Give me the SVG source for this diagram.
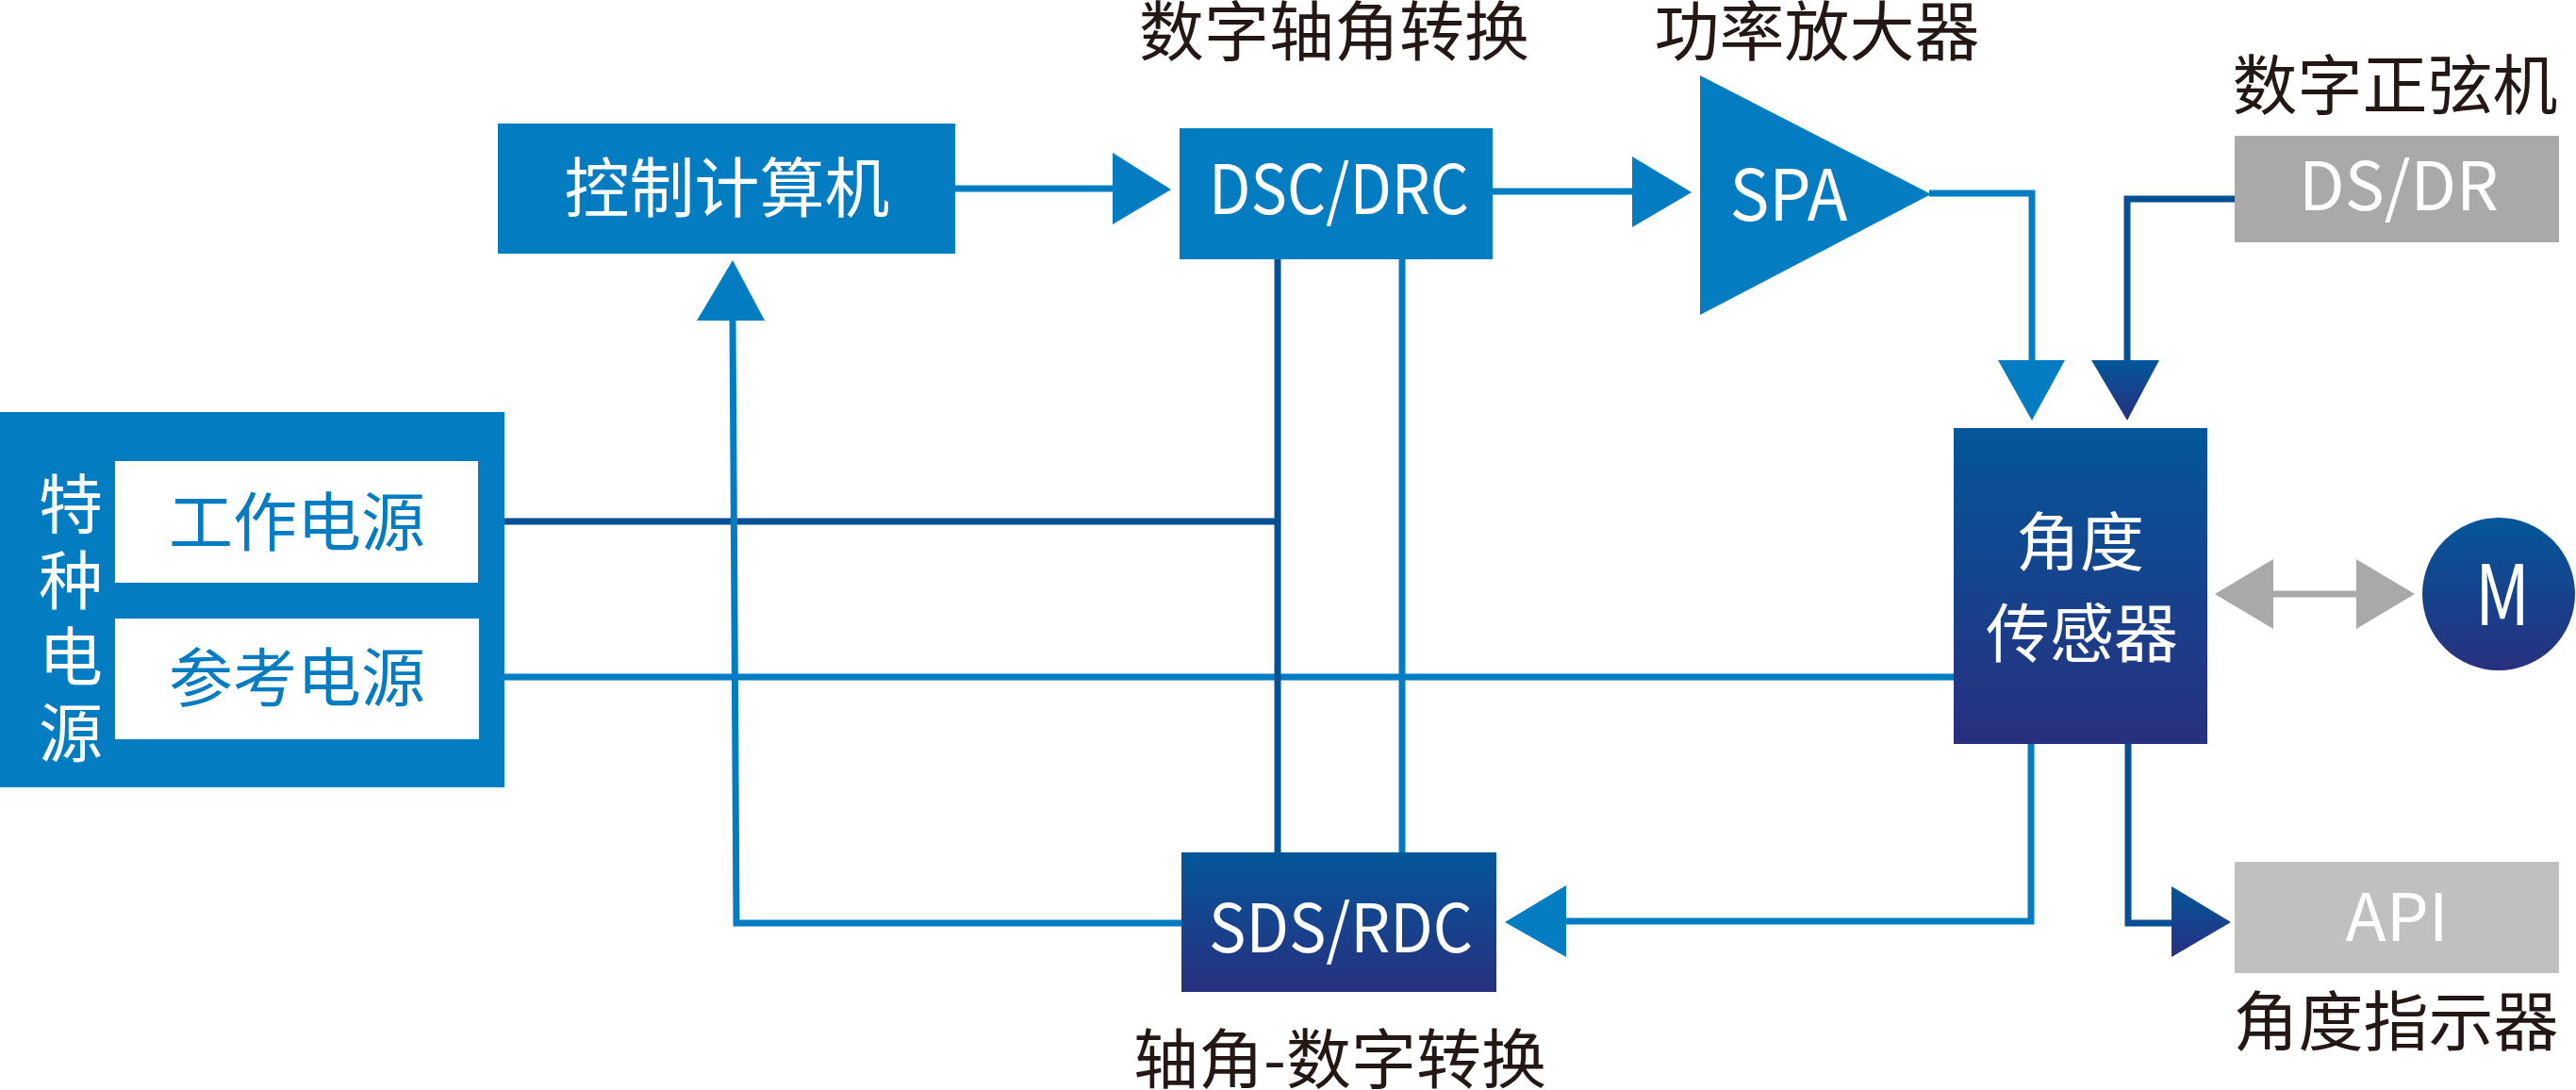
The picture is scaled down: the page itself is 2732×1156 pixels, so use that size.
<svg xmlns="http://www.w3.org/2000/svg" width="2732" height="1156" viewBox="0 0 2732 1156">
<defs>
<linearGradient id="gv" x1="0" y1="0" x2="0" y2="1">
<stop offset="0" stop-color="#04569a"/>
<stop offset="1" stop-color="#28307f"/>
</linearGradient>
<style>
.lab{font-family:"Noto Sans CJK SC","Noto Sans",sans-serif;font-size:69px;fill:#231815;text-anchor:middle}
.wt{font-family:"Noto Sans CJK SC","Noto Sans",sans-serif;fill:#ffffff;text-anchor:middle}
.bt{font-family:"Noto Sans CJK SC","Noto Sans",sans-serif;fill:#037cc2;text-anchor:middle}
.lb{fill:none;stroke:#037cc2;stroke-width:7}
.db{fill:none;stroke:#064f93;stroke-width:7}
.blue{fill:#037cc2}
.dark{fill:url(#gv)}
</style>
</defs>
<rect width="2732" height="1156" fill="#ffffff"/>

<g id="connectors">
<line class="db" x1="535" y1="553" x2="1355" y2="553"/>
<line class="lb" x1="535" y1="718" x2="2072" y2="718"/>
<line class="lb" x1="1013" y1="200" x2="1182" y2="200"/>
<polygon class="blue" points="1180,162 1242,201 1180,238"/>
<line class="lb" x1="1583" y1="203" x2="1733" y2="203"/>
<polygon class="blue" points="1731,166 1794,204 1731,241"/>
<polyline class="lb" points="2046,205 2155,205 2155,384"/>
<polygon class="blue" points="2119,382 2190,382 2155,446"/>
<polyline class="db" points="2370,211 2256,211 2256,384"/>
<polygon class="dark" points="2218,382 2290,382 2256,446"/>
<polyline class="lb" points="2154,789 2154,977 1659,977"/>
<polygon class="blue" points="1661,939 1596,978 1661,1015"/>
<polyline class="db" points="2257,789 2257,979 2305,979"/>
<polygon class="dark" points="2303,940 2366,978 2303,1015"/>
<polyline class="lb" points="1253,979 781,979 777,338"/>
<polygon class="blue" points="739,340 777,276 811,340"/>
<line class="db" x1="1355" y1="275" x2="1355" y2="904"/>
<line class="lb" x1="1487" y1="275" x2="1487" y2="904"/>
<line x1="2409" y1="630" x2="2501" y2="630" stroke="#a9a9a9" stroke-width="7"/>
<polygon fill="#a9a9a9" points="2349,630 2411,593 2411,667"/>
<polygon fill="#a9a9a9" points="2561,630 2499,593 2499,667"/>
</g>

<g id="special-power">
<rect class="blue" x="0" y="437" width="535" height="398"/>
<text class="wt" font-size="68" x="75" y="500" writing-mode="vertical-rl" letter-spacing="13" style="text-anchor:start">特种电源</text>
</g>
<g id="work-power">
<rect x="122" y="489" width="385" height="129" fill="#ffffff"/>
<text class="bt" font-size="68" x="315" y="579">工作电源</text>
</g>
<g id="ref-power">
<rect x="122" y="656" width="386" height="128" fill="#ffffff"/>
<text class="bt" font-size="68" x="315" y="744">参考电源</text>
</g>

<g id="control-computer">
<rect class="blue" x="528" y="131" width="485" height="138"/>
<text class="wt" font-size="69" x="771" y="225">控制计算机</text>
</g>

<g id="dsc-drc">
<rect class="blue" x="1251" y="136" width="332" height="139"/>
<text class="wt" font-size="72" x="1420" y="227" textLength="276" lengthAdjust="spacingAndGlyphs">DSC/DRC</text>
<text class="lab" x="1415" y="59">数字轴角转换</text>
</g>

<g id="spa">
<polygon class="blue" points="1803,80 1803,334 2048,206"/>
<text class="wt" font-size="75" x="1897" y="234" textLength="125" lengthAdjust="spacingAndGlyphs">SPA</text>
<text class="lab" x="1927" y="59">功率放大器</text>
</g>

<g id="ds-dr">
<rect x="2370" y="144" width="344" height="113" fill="#a9a9a9"/>
<text class="wt" font-size="71" x="2544" y="223" textLength="212" lengthAdjust="spacingAndGlyphs">DS/DR</text>
<text class="lab" x="2540" y="116">数字正弦机</text>
</g>

<g id="angle-sensor">
<rect class="dark" x="2072" y="454" width="269" height="335"/>
<text class="wt" font-size="68" x="2206" y="600">角度</text>
<text class="wt" font-size="68" x="2208" y="697">传感器</text>
</g>

<g id="motor">
<circle class="dark" cx="2650" cy="630" r="81"/>
<text class="wt" font-size="89" x="2654" y="663" textLength="58" lengthAdjust="spacingAndGlyphs">M</text>
</g>

<g id="sds-rdc">
<rect class="dark" x="1253" y="904" width="334" height="148"/>
<text class="wt" font-size="71" x="1422" y="1010" textLength="280" lengthAdjust="spacingAndGlyphs">SDS/RDC</text>
<text class="lab" x="1421" y="1149">轴角-数字转换</text>
</g>

<g id="api">
<rect x="2370" y="914" width="344" height="118" fill="#c0c0c0"/>
<text class="wt" font-size="70" x="2542" y="998" textLength="109" lengthAdjust="spacingAndGlyphs">API</text>
<text class="lab" x="2541" y="1109">角度指示器</text>
</g>
</svg>
